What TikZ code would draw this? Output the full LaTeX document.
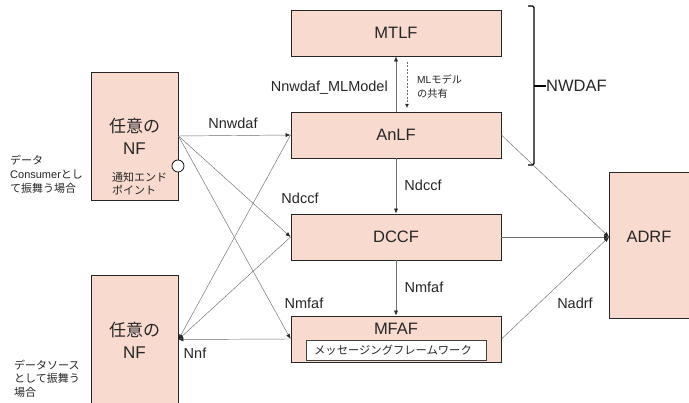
\documentclass[tikz,border=0pt]{standalone}
\usepackage{fontspec}
\setmainfont{Liberation Sans}
\newfontfamily\cjk{Noto Sans CJK JP}
\usetikzlibrary{arrows.meta,shadows}
\definecolor{boxfill}{RGB}{248,218,206}
\definecolor{linegray}{RGB}{110,110,110}
\begin{document}
\begin{tikzpicture}[x=1pt,y=-1pt,
  box/.style={draw=black!85, line width=0.9pt, fill=boxfill, inner sep=0pt,
    drop shadow={shadow xshift=0.8pt, shadow yshift=-0.8pt, opacity=0.35}},
  conn/.style={draw=linegray, line width=0.45pt},
  tip/.style={-{Latex[length=5pt,width=4pt,color=black!85]}},
  lbl/.style={font=\fontsize{14.5}{16}\selectfont, inner sep=0pt, text=black!85},
  big/.style={font=\fontsize{16.5}{19}\selectfont, text=black!85},
  small/.style={font=\cjk\fontsize{10.5}{13.5}\selectfont, inner sep=0pt, text=black!85, align=left}
]
\useasboundingbox (0,0) rectangle (689,403);
\fill[white] (0,0) rectangle (689,403);

% boxes
\node[box, minimum width=210pt, minimum height=46pt] (mtlf) at (396,33) {};
\node[big] at (396,33) {MTLF};
\node[box, minimum width=210pt, minimum height=46pt] (anlf) at (396,135) {};
\node[big] at (396,135) {AnLF};
\node[box, minimum width=210pt, minimum height=46pt] (dccf) at (396,237) {};
\node[big] at (396,237) {DCCF};
\node[box, minimum width=210pt, minimum height=46pt] (mfaf) at (396,339) {};
\node[big] at (396,329) {MFAF};
\node[draw=black!75, line width=0.6pt, fill=white, minimum width=180pt, minimum height=20pt, inner sep=0pt] (msg) at (396,350) {};
\node[small, font=\cjk\fontsize{11.3}{13}\selectfont] at (393,350) {メッセージングフレームワーク};

\node[box, minimum width=82pt, minimum height=146pt] (adrf) at (650,245) {};
\node[big] at (649,237) {ADRF};

\node[box, minimum width=87pt, minimum height=128pt] (nf1) at (134.5,136) {};
\node[big, align=center, font=\fontsize{17}{22}\selectfont] at (134.5,136) {{\cjk 任意の}\\NF};
\node[box, minimum width=87pt, minimum height=128pt] (nf2) at (134.5,339.5) {};
\node[big, align=center, font=\fontsize{17}{22}\selectfont] at (134.5,340) {{\cjk 任意の}\\NF};

\node[draw=black, fill=white, line width=0.7pt, circle, minimum size=12pt, inner sep=0pt] (ep) at (178,166) {};
\node[small, anchor=west, font=\cjk\fontsize{11}{13.5}\selectfont] (eplbl) at (112,183.5) {通知エンド\\ポイント};

% side labels
\node[small, anchor=west, font=\cjk\fontsize{11}{14}\selectfont] (cons) at (10,174) {データ\\{\fontspec{Liberation Sans}Consumer}とし\\て振舞う場合};
\node[small, anchor=west, font=\cjk\fontsize{11}{13.5}\selectfont] (src) at (14,378.5) {データソース\\として振舞う\\場合};

% coordinates
\coordinate (adrfin) at (609,237);

% connectors from NF1
\draw[conn, tip] (nf1.east) -- (anlf.west);
\draw[conn, tip] (nf1.east) -- (dccf.west);
\draw[conn, tip] (nf1.east) -- (mfaf.west);
% connectors to NF2
\draw[conn, tip] (anlf.west) -- (nf2.east);
\draw[conn, tip] (dccf.west) -- (nf2.east);
\draw[conn, tip] (mfaf.west) -- (nf2.east);
% vertical
\draw[conn, tip] (anlf.north) -- (mtlf.south);
\draw[conn, tip] (anlf.south) -- (dccf.north);
\draw[conn, tip] (dccf.south) -- (mfaf.north);
\coordinate (dtop) at (407,62);
\coordinate (dbot) at (407,108);
\draw[conn, dash pattern=on 2pt off 1.5pt, -{Latex[length=4pt,width=3.5pt,color=black!85]}] (dtop) -- (dbot);
% to ADRF
\draw[conn, tip] (anlf.east) -- (adrfin);
\draw[conn, tip] (dccf.east) -- (adrfin);
\draw[conn, tip] (mfaf.east) -- (adrfin);

% labels
\node[lbl] (l1) at (233,123) {Nnwdaf};
\node[lbl] (l2) at (300,198) {Ndccf};
\node[lbl] (l3) at (304,303) {Nmfaf};
\node[lbl] (l4) at (195,353) {Nnf};
\node[lbl] (l5) at (423,185) {Ndccf};
\node[lbl] (l6) at (424,287) {Nmfaf};
\node[lbl] (l7) at (575,303) {Nadrf};
\node[lbl, anchor=east] (l8) at (388,88) {Nnwdaf\_MLModel};
\node[small, anchor=west, font=\cjk\fontsize{10.2}{14}\selectfont] (l9) at (417,87) {{\fontspec{Liberation Sans}ML}モデル\\の共有};

% NWDAF brace
\coordinate (b1) at (528,6);
\coordinate (b2) at (534,6);
\coordinate (b3) at (534,165);
\coordinate (b4) at (528,165);
\draw[black, line width=1.3pt, rounded corners=1.5pt] (b1) -- (b2) -- (b3) -- (b4);
\node[big, anchor=west, inner sep=0pt, font=\fontsize{16.5}{19}\selectfont] (nwdaf) at (546,86) {NWDAF};
\draw[black, line width=1.3pt] (534,86) -- (nwdaf.west);
\end{tikzpicture}
\end{document}
